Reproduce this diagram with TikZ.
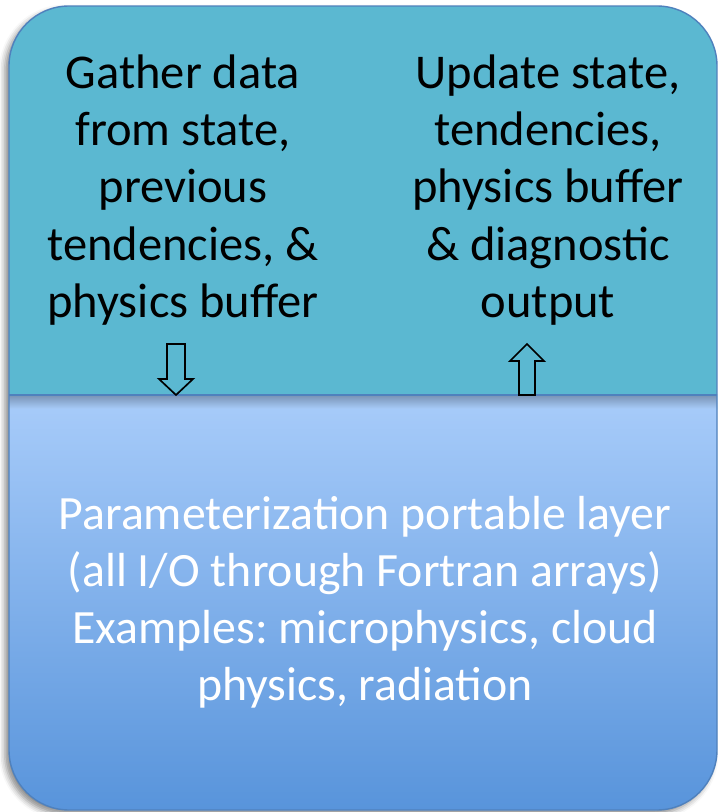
\documentclass[tikz,border=0pt]{standalone}
\usepackage{fontspec}
\setmainfont{Carlito}
\usetikzlibrary{shadows.blur}
\frenchspacing
\definecolor{layerteal}{RGB}{91,184,209}
\definecolor{layeredge}{RGB}{79,129,189}
\definecolor{porttop}{RGB}{168,204,250}
\definecolor{portbottom}{RGB}{88,148,219}
\tikzset{
  outline/.style={draw=layeredge,line width=1pt,rounded corners=1.5cm},
  boxtext/.style={align=center,inner sep=0pt,font=\fontsize{34.5}{40.6}\selectfont},
  toptext/.style={boxtext,text=black},
  bottomtext/.style={boxtext,text=white,font=\fontsize{34}{40.6}\selectfont},
  blockarrow/.style={draw=black,line width=1.2pt,line join=miter},
}

\begin{document}
\begin{tikzpicture}[x=0.025cm,y=0.025cm]
  \path[use as bounding box] (0,0) rectangle (718,812);

  % outer shape with shadow
  \path[outline,draw=none,fill=white,
        blur shadow={shadow xshift=-3pt,shadow yshift=-3pt,shadow blur radius=4pt,shadow opacity=45}]
    (9,2) rectangle (717,806);
  \begin{scope}
    \clip[rounded corners=1.5cm] (9,2) rectangle (717,806);
    \fill[layerteal] (9,417) rectangle (717,806);
    \shade[top color=porttop,bottom color=portbottom] (9,2) rectangle (717,417);
    \shade[top color=porttop!72!black,bottom color=porttop] (9,403) rectangle (717,417);
  \end{scope}
  \path[outline] (9,2) rectangle (717,806);
  \draw[layeredge,line width=1.6pt] (9,417) -- (717,417);

  \node[toptext] (gather) at (183,622)
    {Gather data\\from state,\\previous\\tendencies, \&\\physics buffer};
  \node[toptext] (update) at (548,622)
    {Update state,\\tendencies,\\physics buffer\\\& diagnostic\\output};
  \node[bottomtext] (portable) at (365,210)
    {Parameterization portable layer\\(all I/O through Fortran arrays)\\Examples: microphysics, cloud\\physics, radiation};

  % block arrows between the layers
  \draw[blockarrow] (167,468) -- (185,468) -- (185,433) -- (193,433) -- (176,417)
    -- (159,433) -- (167,433) -- cycle;
  \draw[blockarrow] (519,417) -- (535,417) -- (535,451) -- (544,451) -- (527,468)
    -- (510,451) -- (519,451) -- cycle;
\end{tikzpicture}
\end{document}
